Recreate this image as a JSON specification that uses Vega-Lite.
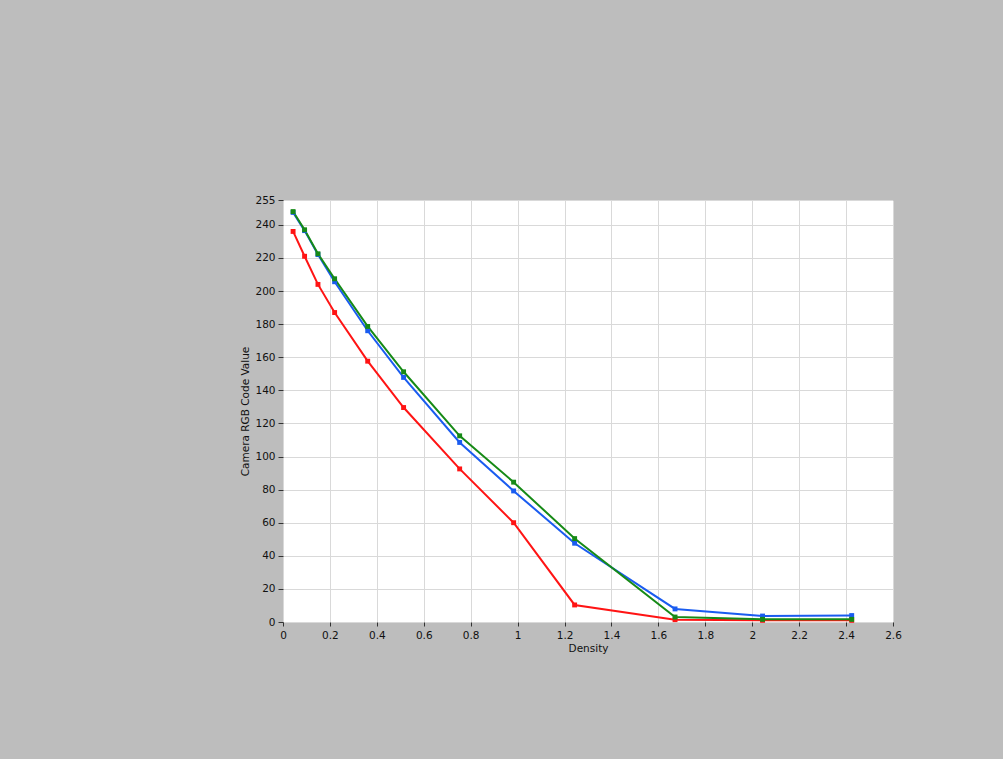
{
  "$schema": "https://vega.github.io/schema/vega-lite/v6.json",
  "width": 610,
  "height": 422,
  "autosize": {"type": "none"},
  "padding": {"left": 283, "top": 200, "right": 110, "bottom": 137},
  "background": "#bdbdbd",
  "config": {
    "view": {"fill": "white", "stroke": "#666666", "strokeWidth": 1},
    "font": "DejaVu Sans",
    "axis": {
      "labelFont": "DejaVu Sans",
      "titleFont": "DejaVu Sans",
      "labelFontSize": 10.5,
      "titleFontSize": 10.5,
      "titleFontWeight": "normal",
      "labelColor": "#111111",
      "titleColor": "#111111",
      "gridColor": "#d9d9d9",
      "gridWidth": 1,
      "domain": false,
      "tickColor": "#333333"
    }
  },
  "data": {
    "values": [
      {"d": 0.043, "v": 236, "ch": "R"},
      {"d": 0.092, "v": 221, "ch": "R"},
      {"d": 0.149, "v": 204, "ch": "R"},
      {"d": 0.22, "v": 187, "ch": "R"},
      {"d": 0.361, "v": 157.6, "ch": "R"},
      {"d": 0.514, "v": 129.6, "ch": "R"},
      {"d": 0.753, "v": 92.5, "ch": "R"},
      {"d": 0.983, "v": 60, "ch": "R"},
      {"d": 1.243, "v": 10.3, "ch": "R"},
      {"d": 1.671, "v": 1.4, "ch": "R"},
      {"d": 2.044, "v": 1, "ch": "R"},
      {"d": 2.424, "v": 1, "ch": "R"},
      {"d": 0.043, "v": 247.5, "ch": "B"},
      {"d": 0.092, "v": 236.5, "ch": "B"},
      {"d": 0.149, "v": 222, "ch": "B"},
      {"d": 0.22, "v": 205.6, "ch": "B"},
      {"d": 0.361, "v": 176, "ch": "B"},
      {"d": 0.514, "v": 147.8, "ch": "B"},
      {"d": 0.753, "v": 108.5, "ch": "B"},
      {"d": 0.983, "v": 79.2, "ch": "B"},
      {"d": 1.243, "v": 47.6, "ch": "B"},
      {"d": 1.671, "v": 7.9, "ch": "B"},
      {"d": 2.044, "v": 3.6, "ch": "B"},
      {"d": 2.424, "v": 3.9, "ch": "B"},
      {"d": 0.043, "v": 248, "ch": "G"},
      {"d": 0.092, "v": 237, "ch": "G"},
      {"d": 0.149, "v": 222.5, "ch": "G"},
      {"d": 0.22, "v": 207.4, "ch": "G"},
      {"d": 0.361, "v": 178.6, "ch": "G"},
      {"d": 0.514, "v": 151.2, "ch": "G"},
      {"d": 0.753, "v": 112.5, "ch": "G"},
      {"d": 0.983, "v": 84.5, "ch": "G"},
      {"d": 1.243, "v": 50.4, "ch": "G"},
      {"d": 1.671, "v": 3, "ch": "G"},
      {"d": 2.044, "v": 1.6, "ch": "G"},
      {"d": 2.424, "v": 1.6, "ch": "G"}
    ]
  },
  "encoding": {
    "x": {
      "field": "d",
      "type": "quantitative",
      "title": "Density",
      "scale": {"domain": [0, 2.6], "nice": false, "zero": false},
      "axis": {
        "values": [0, 0.2, 0.4, 0.6, 0.8, 1, 1.2, 1.4, 1.6, 1.8, 2, 2.2, 2.4, 2.6],
        "format": "~g",
        "tickSize": 4,
        "labelPadding": 4,
        "titlePadding": 3,
        "labelFlush": false
      }
    },
    "y": {
      "field": "v",
      "type": "quantitative",
      "title": "Camera RGB Code Value",
      "scale": {"domain": [0, 255], "nice": false},
      "axis": {
        "values": [0, 20, 40, 60, 80, 100, 120, 140, 160, 180, 200, 220, 240, 255],
        "tickSize": 5,
        "labelPadding": 3,
        "titlePadding": 4,
        "labelFlush": false
      }
    },
    "color": {
      "field": "ch",
      "type": "nominal",
      "scale": {"domain": ["R", "B", "G"], "range": ["#ff1414", "#1a5cf0", "#168a16"]},
      "legend": null
    },
    "detail": {"field": "ch"}
  },
  "layer": [
    {"mark": {"type": "line", "strokeWidth": 2}},
    {"mark": {"type": "square", "size": 24, "opacity": 1, "filled": true}}
  ]
}
